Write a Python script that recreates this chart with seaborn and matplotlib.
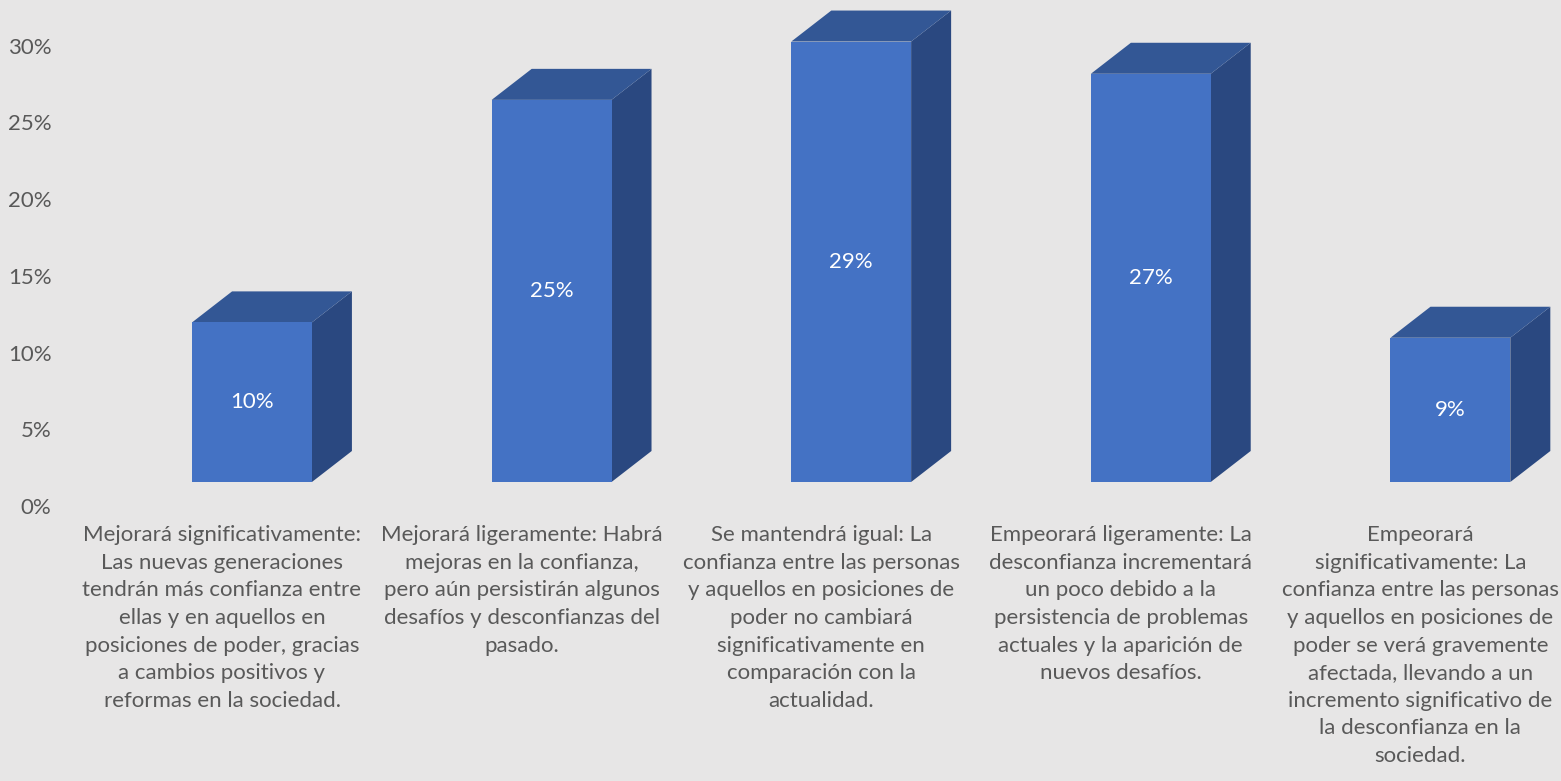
import numpy as np
import pandas as pd
import matplotlib
matplotlib.use("Agg")
import matplotlib.pyplot as plt
from matplotlib.patches import Polygon
import seaborn as sns

# datos
categorias = [
    "Mejorará significativamente:\nLas nuevas generaciones\ntendrán más confianza entre\nellas y en aquellos en\nposiciones de poder, gracias\na cambios positivos y\nreformas en la sociedad.",
    "Mejorará ligeramente: Habrá\nmejoras en la confianza,\npero aún persistirán algunos\ndesafíos y desconfianzas del\npasado.",
    "Se mantendrá igual: La\nconfianza entre las personas\ny aquellos en posiciones de\npoder no cambiará\nsignificativamente en\ncomparación con la\nactualidad.",
    "Empeorará ligeramente: La\ndesconfianza incrementará\nun poco debido a la\npersistencia de problemas\nactuales y la aparición de\nnuevos desafíos.",
    "Empeorará\nsignificativamente: La\nconfianza entre las personas\ny aquellos en posiciones de\npoder se verá gravemente\nafectada, llevando a un\nincremento significativo de\nla desconfianza en la\nsociedad.",
]
porcentajes = [0.104, 0.249, 0.287, 0.266, 0.094]
etiquetas = ["10%", "25%", "29%", "27%", "9%"]
y_ticks = [0.0, 0.05, 0.10, 0.15, 0.20, 0.25, 0.30]
y_ticklabels = ["0%", "5%", "10%", "15%", "20%", "25%", "30%"]

# estilo
fondo = "#E7E6E6"
azul = "#4472C4"
azul_top = "#335795"
azul_lado = "#2A4880"
gris = "#595959"

sns.set_style("white", {"axes.facecolor": fondo, "figure.facecolor": fondo})
plt.rcParams["font.family"] = ["Lato", "DejaVu Sans"]
fs = 16

W, H = 1561, 781
fig = plt.figure(figsize=(W / 100, H / 100), dpi=100)
fig.patch.set_facecolor(fondo)

# geometria en pixeles
paso = 299.6          # distancia entre categorias
x_cat0 = 222          # centro de la primera etiqueta
base_px = 506         # 0% del eje
escala = 1534.7       # px por unidad (100%)
suelo_px = 24         # el frente de las barras queda sobre el 0%
desplaz_px = 30       # frente de la barra respecto a la etiqueta
prof_x, prof_y = 40, 31

rect = [72.2 / W, (H - base_px) / H, (W - 72.2) / W, base_px / H]
xmax = (W - x_cat0) / paso
ymax = base_px / escala

# eje con etiquetas
ax = fig.add_axes(rect)
ax.set_facecolor(fondo)
ax.set_xlim(-0.5, xmax)
ax.set_ylim(0, ymax)
ax.set_xticks(range(len(categorias)))
ax.set_xticklabels(categorias, fontsize=fs, color=gris)
for t in ax.get_xticklabels():
    t.set_linespacing(1.47)
ax.set_yticks(y_ticks)
ax.set_yticklabels(y_ticklabels, fontsize=fs, color=gris)
ax.tick_params(axis="x", length=0, pad=14)
ax.tick_params(axis="y", length=0, pad=15)
for s in ax.spines.values():
    s.set_visible(False)

# eje con las barras
ax2 = fig.add_axes(rect)
ax2.patch.set_alpha(0)
sx = desplaz_px / paso
sy = suelo_px / escala

df = pd.DataFrame({"cat": [f"c{i}" for i in range(len(porcentajes))], "valor": porcentajes})
sns.barplot(data=df, x="cat", y="valor", color=azul, saturation=1, width=0.4,
            ax=ax2, linewidth=0, zorder=3)
ax2.set_xlim(-0.5 - sx, xmax - sx)
ax2.set_ylim(-sy, ymax - sy)
ax2.axis("off")

fig.canvas.draw()
inv = ax2.transData.inverted()
(a0, b0), (a1, b1) = inv.transform([(0, 0), (prof_x, prof_y)])
dx, dy = a1 - a0, b1 - b0

for p, lab in zip(ax2.patches, etiquetas):
    x0, y0 = p.get_x(), p.get_y()
    w, h = p.get_width(), p.get_height()
    lado = Polygon([(x0 + w, y0), (x0 + w + dx, y0 + dy), (x0 + w + dx, y0 + h + dy), (x0 + w, y0 + h)],
                   closed=True, facecolor=azul_lado, edgecolor="none", zorder=2, clip_on=False)
    tapa = Polygon([(x0, y0 + h), (x0 + w, y0 + h), (x0 + w + dx, y0 + h + dy), (x0 + dx, y0 + h + dy)],
                   closed=True, facecolor=azul_top, edgecolor="none", zorder=2, clip_on=False)
    ax2.add_patch(lado)
    ax2.add_patch(tapa)
    ax2.text(x0 + w / 2, y0 + h / 2, lab, ha="center", va="center", color="white", fontsize=fs, zorder=4)

fig.savefig("out.png", dpi=100, facecolor=fondo)
